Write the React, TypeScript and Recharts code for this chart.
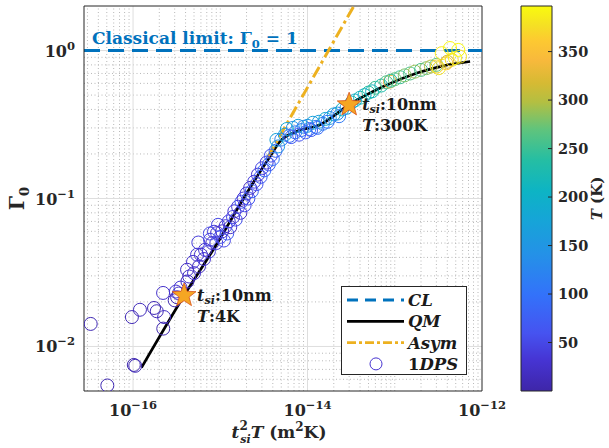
import React from 'react';
import {
  ComposedChart, BarChart, Bar, Line, Scatter, XAxis, YAxis,
  ReferenceLine, Legend
} from 'recharts';

const FONT = "'DejaVu Serif', 'Liberation Serif', serif";
const AXIS_COLOR = '#262626';

// axes
const xDomain = [2.74e-17, 1e-12];
const yDomain = [0.005, 2];
const xTicks = [1e-16, 1e-14, 1e-12];
const yTicks = [0.01, 0.1, 1];
const tempDomain = [0, 397];
const tempTicks = [50, 100, 150, 200, 250, 300, 350];

// QM model curve
const qmX = [1.25e-16, 3.85e-16, 9.75e-16, 1.55e-15, 2.5e-15, 3.72e-15, 4.84e-15, 7.5e-15, 1.39e-14, 3.0e-14, 7.4e-14, 1.8e-13, 3.6e-13, 7.3e-13];
const qmY = [0.0072, 0.0221, 0.0526, 0.084, 0.134, 0.192, 0.243, 0.284, 0.315, 0.43, 0.571, 0.704, 0.788, 0.843];

// asymptote
const asymX = [3.5e-15, 3.4e-14];
const asymY = [0.19, 2.0];

// classical limit
const clY = 1;

// 1DPS simulation points
const dpsX = [
  3.27e-17, 5.07e-17, 1.02e-16, 1.06e-16, 9.7e-17, 1.2e-16, 1.74e-16, 1.87e-16, 2.27e-16, 2.22e-16,
  2.21e-16, 3.0e-16, 3.2e-16, 3.35e-16, 3.1e-16, 3.5e-16, 4.2e-16, 4.4e-16, 5.0e-16, 5.6e-16,
  5.7e-16, 6.0e-16, 6.5e-16, 7.4e-16, 7.6e-16, 8.1e-16, 9.2e-16, 4.16e-16, 4.87e-16, 5.42e-16,
  6.69e-16, 7.63e-16, 8.48e-16, 9.42e-16,
  9.0e-16, 1.0e-15, 1.05e-15, 1.1e-15, 1.15e-15, 1.2e-15, 1.25e-15, 1.3e-15, 1.4e-15, 1.45e-15,
  1.5e-15, 1.6e-15, 1.7e-15, 1.75e-15, 1.85e-15, 1.9e-15, 2.0e-15, 2.1e-15, 2.2e-15, 2.3e-15,
  2.45e-15, 2.6e-15, 2.7e-15, 2.9e-15, 3.0e-15, 3.2e-15, 3.4e-15, 3.6e-15, 3.8e-15, 4.0e-15,
  4.3e-15, 4.6e-15, 4.4e-15, 5.0e-15, 5.5e-15, 5.8e-15, 6.2e-15, 6.8e-15, 7.2e-15, 7.8e-15,
  8.5e-15, 9.0e-15, 1.0e-14, 1.05e-14, 1.15e-14, 1.25e-14, 1.35e-14, 1.5e-14, 1.6e-14, 1.8e-14,
  2.0e-14, 2.2e-14, 2.5e-14, 2.8e-14, 3.2e-14, 3.5e-14, 4.0e-14, 4.5e-14, 5.0e-14, 5.5e-14,
  6.0e-14, 7.0e-14, 8.0e-14, 8.8e-14, 9.0e-14, 1.0e-13, 1.15e-13, 1.3e-13, 1.5e-13, 1.7e-13,
  2.0e-13, 2.3e-13, 2.6e-13, 3.0e-13, 3.03e-13, 3.2e-13, 3.45e-13, 3.9e-13, 4.0e-13, 4.3e-13,
  4.5e-13, 4.9e-13, 5.35e-13, 5.6e-13,
  6.5e-15, 8.0e-15, 9.5e-15, 1.1e-14, 1.3e-14, 1.7e-14, 2.3e-14
];
const dpsY = [
  0.0142, 0.00545, 0.0075, 0.0074, 0.0158, 0.0177, 0.0182, 0.0173, 0.0158, 0.0132,
  0.023, 0.0205, 0.0215, 0.0228, 0.0235, 0.025, 0.0275, 0.0297, 0.0313, 0.0504,
  0.0347, 0.0417, 0.039, 0.0438, 0.058, 0.05, 0.0584, 0.033, 0.0373, 0.0417,
  0.045, 0.0526, 0.0596, 0.0664,
  0.05, 0.055, 0.06, 0.052, 0.065, 0.058, 0.07, 0.064, 0.075, 0.082,
  0.072, 0.088, 0.08, 0.095, 0.1, 0.09, 0.108, 0.1, 0.118, 0.112,
  0.13, 0.125, 0.145, 0.14, 0.16, 0.155, 0.175, 0.17, 0.195, 0.185,
  0.21, 0.225, 0.249, 0.25, 0.27, 0.295, 0.265, 0.3, 0.28, 0.31,
  0.29, 0.305, 0.31, 0.295, 0.325, 0.305, 0.33, 0.32, 0.345, 0.35,
  0.37, 0.375, 0.4, 0.41, 0.445, 0.46, 0.48, 0.5, 0.52, 0.53,
  0.56, 0.58, 0.61, 0.617, 0.625, 0.64, 0.66, 0.68, 0.7, 0.72,
  0.74, 0.76, 0.78, 0.8, 0.78, 0.76, 0.96, 0.82, 0.84, 1.04,
  0.865, 0.89, 1.01, 0.91,
  0.26, 0.27, 0.28, 0.29, 0.3, 0.33, 0.36
];
const dpsT = [
  8, 8, 4, 12, 10, 15, 8, 12, 20, 6,
  25, 8, 12, 20, 28, 35, 15, 22, 30, 40,
  18, 25, 32, 40, 50, 22, 30, 20, 28, 35,
  30, 45, 38, 50,
  40, 60, 20, 50, 30, 70, 40, 20, 50, 30,
  60, 40, 20, 70, 30, 50, 40, 60, 20, 80,
  40, 60, 30, 70, 50, 90, 40, 70, 60, 100,
  80, 150, 170, 120, 160, 180, 90, 140, 110, 170,
  100, 130, 150, 90, 170, 110, 160, 120, 190, 140,
  180, 130, 200, 160, 210, 190, 220, 200, 240, 210,
  250, 230, 260, 340, 240, 270, 250, 280, 260, 290,
  260, 280, 300, 270, 370, 380, 385, 360, 320, 395,
  375, 390, 397, 380,
  70, 60, 80, 70, 90, 100, 110
];

// highlighted cases
const starX = [3.85e-16, 3.0e-14];
const starY = [0.0221, 0.43];
const starTemp = ['4K', '300K'];
const starThickness = ['10nm', '10nm'];

const legendNames = ['CL', 'QM', 'Asym', '1DPS'];

// MATLAB parula, sampled
const parulaStops: [number, string][] = [
  [0.0, '#3e26a8'], [0.08, '#4634d3'], [0.15, '#4653f0'], [0.25, '#3372fa'],
  [0.35, '#2590e8'], [0.45, '#15a6d6'], [0.52, '#0db4c4'], [0.6, '#25bea3'],
  [0.68, '#60c47c'], [0.75, '#b3bf42'], [0.8, '#d6ba33'], [0.86, '#f8b93c'],
  [0.91, '#fdc931'], [0.95, '#f5e024'], [1.0, '#f9fb0e']
];

const hexToRgb = (h: string) => [1, 3, 5].map((i) => parseInt(h.slice(i, i + 2), 16));

const parula = (t: number) => {
  const f = Math.min(1, Math.max(0, (t - tempDomain[0]) / (tempDomain[1] - tempDomain[0])));
  for (let i = 1; i < parulaStops.length; i++) {
    const [f1, c1] = parulaStops[i];
    const [f0, c0] = parulaStops[i - 1];
    if (f <= f1) {
      const k = (f - f0) / (f1 - f0);
      const a = hexToRgb(c0);
      const b = hexToRgb(c1);
      return `rgb(${a.map((v, j) => Math.round(v + (b[j] - v) * k)).join(',')})`;
    }
  }
  return parulaStops[parulaStops.length - 1][1];
};

const qmData = qmX.map((x, i) => ({ x, y: qmY[i] }));
const asymData = asymX.map((x, i) => ({ x, y: asymY[i] }));
const dpsData = dpsX.map((x, i) => ({ x, y: dpsY[i], t: dpsT[i] }));
const starData = starX.map((x, i) => ({ x, y: starY[i], temp: starTemp[i], tsi: starThickness[i] }));

// minor grid values (2..9 x 10^n)
const near = (a: number, b: number) => Math.abs(a - b) / b < 1e-6;
const minorValues = (lo: number, hi: number, major: number[]) => {
  const out: number[] = [];
  for (let d = Math.floor(Math.log10(lo)); d <= Math.ceil(Math.log10(hi)); d++) {
    for (let k = 1; k <= 9; k++) {
      const v = k * Math.pow(10, d);
      if (v > lo && v < hi && !major.some((m) => near(m, v))) out.push(v);
    }
  }
  return out;
};
const minorX = minorValues(xDomain[0], xDomain[1], xTicks);
const minorY = minorValues(yDomain[0], yDomain[1], yTicks);

const expLabel = (v: number) => {
  const e = Math.round(Math.log10(v));
  return e < 0 ? `\u2212${-e}` : `${e}`;
};

const XTick = (props: any) => {
  const { x, y, payload } = props;
  return (
    <text x={x} y={y + 17} textAnchor="middle" fontFamily={FONT} fontWeight="bold" fontSize={16} fill={AXIS_COLOR}>
      10<tspan dy={-7} fontSize={11.5}>{expLabel(payload.value)}</tspan>
    </text>
  );
};

const YTick = (props: any) => {
  const { x, y, payload } = props;
  return (
    <text x={x - 1} y={y + 6} textAnchor="end" fontFamily={FONT} fontWeight="bold" fontSize={16} fill={AXIS_COLOR}>
      10<tspan dy={-7} fontSize={11.5}>{expLabel(payload.value)}</tspan>
    </text>
  );
};

const XLabel = (props: any) => {
  const { viewBox } = props;
  const cx = viewBox.x + viewBox.width / 2 - 4;
  return (
    <text x={cx} y={viewBox.y + 47} textAnchor="middle" fontFamily={FONT} fontWeight="bold" fontSize={17} fill={AXIS_COLOR}>
      <tspan fontStyle="italic">t</tspan>
      <tspan dy={-8} fontSize={12}>2</tspan>
      <tspan dx={-7.5} dy={13} fontSize={11} fontStyle="italic">si</tspan>
      <tspan dy={-5} fontStyle="italic">T</tspan>
      <tspan> (m</tspan>
      <tspan dy={-7} fontSize={12}>2</tspan>
      <tspan dy={7}>K)</tspan>
    </text>
  );
};

const YLabel = (props: any) => {
  const { viewBox } = props;
  const cx = viewBox.x + 24;
  const cy = viewBox.y + viewBox.height / 2;
  return (
    <text x={cx} y={cy} transform={`rotate(-90, ${cx}, ${cy})`} textAnchor="middle" fontFamily={FONT} fontWeight="bold" fontSize={20} fill={AXIS_COLOR}>
      Γ<tspan dy={5} fontSize={13}>0</tspan>
    </text>
  );
};

const ClLabel = (props: any) => {
  const { viewBox } = props;
  return (
    <text x={viewBox.x + 8} y={viewBox.y - 7} fontFamily={FONT} fontWeight="bold" fontSize={17} fill="#0072BD">
      Classical limit: Γ<tspan dy={4} fontSize={11.5}>0</tspan>
      <tspan dy={-4}> = 1</tspan>
    </text>
  );
};

const DpsCircle = (props: any) => {
  const { cx, cy, payload } = props;
  return <circle cx={cx} cy={cy} r={6.5} fill="none" stroke={parula(payload.t)} strokeWidth={1} />;
};

const StarMark = (props: any) => {
  const { cx, cy, payload } = props;
  const pts: string[] = [];
  for (let i = 0; i < 10; i++) {
    const r = i % 2 === 0 ? 12.5 : 5.2;
    const a = -Math.PI / 2 + (i * Math.PI) / 5;
    pts.push(`${cx + r * Math.cos(a)},${cy + r * Math.sin(a)}`);
  }
  return (
    <g>
      <polygon points={pts.join(' ')} fill="#F5A623" stroke="#D95319" strokeWidth={0.8} />
      <text x={cx + 13} y={cy + 5} fontFamily={FONT} fontWeight="bold" fontSize={16} fill="#1a1a1a">
        <tspan fontStyle="italic">t</tspan>
        <tspan dy={3} fontSize={11} fontStyle="italic">si</tspan>
        <tspan dy={-3}>:{payload.tsi}</tspan>
      </text>
      <text x={cx + 13} y={cy + 26} fontFamily={FONT} fontWeight="bold" fontSize={16} fill="#1a1a1a">
        <tspan fontStyle="italic">T</tspan>:{payload.temp}
      </text>
    </g>
  );
};

const LegendBox = () => {
  const rowY = (i: number) => 13 + i * 21.3;
  return (
    <div style={{ width: 124, height: 87, border: `1px solid ${AXIS_COLOR}`, background: '#fff' }}>
      <svg width={124} height={87}>
        <line x1={5} x2={62} y1={rowY(0)} y2={rowY(0)} stroke="#0072BD" strokeWidth={2.8} strokeDasharray="11 7" />
        <line x1={5} x2={62} y1={rowY(1)} y2={rowY(1)} stroke="#000" strokeWidth={2.7} />
        <line x1={5} x2={62} y1={rowY(2)} y2={rowY(2)} stroke="#EDB120" strokeWidth={2.8} strokeDasharray="9 3 3 3" />
        <circle cx={34} cy={rowY(3)} r={6} fill="none" stroke={parula(30)} strokeWidth={1} />
        {legendNames.map((name, i) => (
          <text key={name} x={66} y={rowY(i) + 6} fontFamily={FONT} fontWeight="bold" fontSize={16.5} fill="#1a1a1a">
            {name.startsWith('1') ? (
              <>1<tspan fontStyle="italic">{name.slice(1)}</tspan></>
            ) : (
              <tspan fontStyle="italic">{name}</tspan>
            )}
          </text>
        ))}
      </svg>
    </div>
  );
};

const CbTick = (props: any) => {
  const { x, y, payload } = props;
  return (
    <g>
      <line x1={x - 10} x2={x - 6} y1={y} y2={y} stroke={AXIS_COLOR} strokeWidth={1} />
      <text x={x} y={y + 5} fontFamily={FONT} fontWeight="bold" fontSize={14.5} fill={AXIS_COLOR}>{payload.value}</text>
    </g>
  );
};

const CbLabel = (props: any) => {
  const { viewBox } = props;
  const cx = viewBox.x + 50;
  const cy = viewBox.y + viewBox.height / 2;
  return (
    <text x={cx} y={cy} transform={`rotate(-90, ${cx}, ${cy})`} textAnchor="middle" fontFamily={FONT} fontWeight="bold" fontSize={15} fill={AXIS_COLOR}>
      <tspan fontStyle="italic">T</tspan> (K)
    </text>
  );
};

const App: React.FC = () => {
  return (
    <div style={{ position: 'absolute', left: 0, top: 0, width: 609, height: 448, background: '#fff' }}>
      <ComposedChart width={609} height={448} margin={{ top: 6, right: 127, bottom: 0, left: 0 }}>
        <XAxis
          type="number"
          dataKey="x"
          scale="log"
          domain={xDomain}
          allowDataOverflow
          ticks={xTicks}
          tick={<XTick />}
          tickLine={false}
          axisLine={{ stroke: AXIS_COLOR }}
          height={57}
          label={<XLabel />}
        />
        <YAxis
          type="number"
          dataKey="y"
          scale="log"
          domain={yDomain}
          allowDataOverflow
          ticks={yTicks}
          tick={<YTick />}
          tickLine={false}
          axisLine={{ stroke: AXIS_COLOR }}
          width={84}
          label={<YLabel />}
        />
        {minorX.map((v) => (
          <ReferenceLine key={`mx-${v}`} x={v} stroke="#b8b8b8" strokeDasharray="1 2.5" />
        ))}
        {minorY.map((v) => (
          <ReferenceLine key={`my-${v}`} y={v} stroke="#b8b8b8" strokeDasharray="1 2.5" />
        ))}
        {xTicks.slice(0, -1).map((v) => (
          <ReferenceLine key={`gx-${v}`} x={v} stroke="#dedede" />
        ))}
        {yTicks.map((v) => (
          <ReferenceLine key={`gy-${v}`} y={v} stroke="#dedede" />
        ))}
        <ReferenceLine x={xDomain[1]} stroke={AXIS_COLOR} />
        <ReferenceLine y={yDomain[1]} stroke={AXIS_COLOR} />
        <Scatter data={dpsData} shape={<DpsCircle />} isAnimationActive={false} />
        <ReferenceLine y={clY} stroke="#0072BD" strokeWidth={3} strokeDasharray="16 8" label={<ClLabel />} />
        <Line data={qmData} dataKey="y" type="monotone" stroke="#000" strokeWidth={2.7} dot={false} isAnimationActive={false} />
        <Line data={asymData} dataKey="y" type="linear" stroke="#EDB120" strokeWidth={3} strokeDasharray="12 4 3 4" dot={false} isAnimationActive={false} />
        <Scatter data={starData} shape={<StarMark />} isAnimationActive={false} />
        <Legend
          layout="vertical"
          align="center"
          verticalAlign="middle"
          content={() => <LegendBox />}
          wrapperStyle={{ left: 341, top: 286, width: 126, height: 89 }}
        />
      </ComposedChart>
      <div style={{ position: 'absolute', left: 500, top: 0 }}>
        <BarChart
          width={109}
          height={448}
          data={[{ name: 'T', v: tempDomain[1] }]}
          margin={{ top: 6, right: 0, bottom: 57, left: 21 }}
          barCategoryGap={0}
        >
          <defs>
            <linearGradient id="parulaGrad" x1="0" y1="1" x2="0" y2="0">
              {parulaStops.map(([f, c]) => (
                <stop key={f} offset={f} stopColor={c} />
              ))}
            </linearGradient>
          </defs>
          <XAxis dataKey="name" hide />
          <YAxis
            orientation="right"
            type="number"
            domain={tempDomain}
            ticks={tempTicks}
            tick={<CbTick />}
            tickLine={false}
            axisLine={false}
            tickSize={0}
            tickMargin={6}
            width={57}
            label={<CbLabel />}
          />
          <Bar dataKey="v" fill="url(#parulaGrad)" stroke={AXIS_COLOR} strokeWidth={1} isAnimationActive={false} />
        </BarChart>
      </div>
    </div>
  );
};

export default App;
